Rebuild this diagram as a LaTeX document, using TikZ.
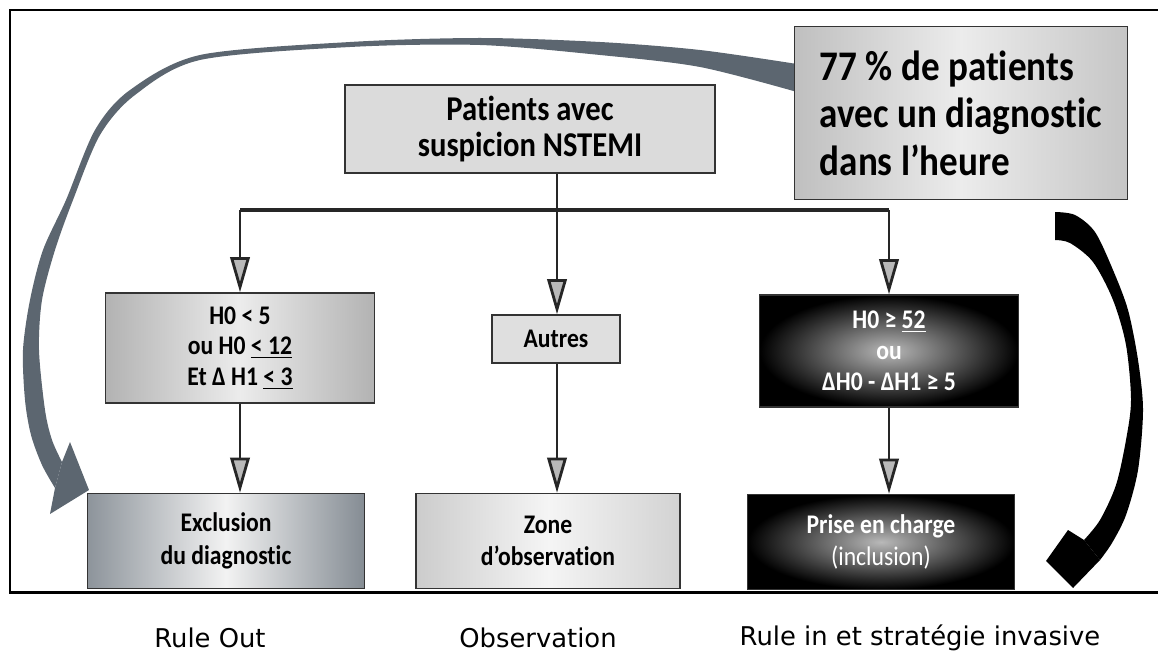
\documentclass[tikz,border=0pt]{standalone}
\usepackage{fontspec}
\setmainfont{DejaVu Sans}
\newfontfamily\boxfont[FakeStretch=0.88, Ligatures=NoCommon]{Carlito}
\usetikzlibrary{arrows.meta, positioning}

\definecolor{arcgray}{RGB}{92,102,112}

\begin{document}
\begin{tikzpicture}[x=0.02cm, y=-0.02cm,
                    box/.style={draw=black!80, line width=0.8pt, align=center, inner sep=0pt,
                                font=\boxfont\bfseries\fontsize{15.3}{17.5}\selectfont},
                    darkbox/.style={box, shading=radial, inner color=gray!55, outer color=black, text=white},
                    line/.style={line width=1.6pt, black!85},
                    flow/.style={line, -{Triangle[length=20pt, width=11pt, fill=gray!55]}},
                    lbl/.style={font=\fontsize{14.7}{17}\selectfont}]

    \useasboundingbox (0,0) rectangle (1158,655);
    \draw[line width=1.7pt] (1170,10) -- (10,10) -- (10,592) -- (1170,592);

    % grande fleche grise vers l'exclusion
    \fill[arcgray] plot[smooth] coordinates {(797,64) (700,50) (600,42) (480,38) (350,42) (200,55) (130,90)
        (95,130) (66,200) (43,250) (30,300) (23,350) (25,400) (31,435) (42,465) (55,488)}
        -- plot[smooth] coordinates {(62,462) (52,440) (45,410) (39,350) (42,300) (55,250) (73,200)
        (100,135) (135,95) (200,60) (350,47) (480,45) (600,55) (700,67) (797,92)} -- cycle;
    \fill[arcgray] (55,488) -- (50,514) -- (89,490) -- (70,442) -- (62,462) -- cycle;

    % fleche noire vers la prise en charge
    \fill[black] plot[smooth] coordinates {(1055,212) (1075,215) (1095,232) (1113,270) (1128,310) (1138,360)
        (1143,410) (1138,470) (1126,515) (1112,543) (1100,560)}
        -- plot[smooth] coordinates {(1084,540) (1100,520) (1116,485) (1126,440) (1131,400) (1126,345)
        (1113,300) (1093,262) (1070,243) (1055,240)} -- cycle;
    \fill[black] (1100,560) -- (1073,588) -- (1046,561) -- (1068,530) -- (1084,540) -- cycle;

    \node[box, minimum width=7.4cm, minimum height=1.76cm, fill=gray!28,
          font=\boxfont\bfseries\fontsize{19.8}{20.5}\selectfont] (patients) at (530,129) {Patients avec\\suspicion NSTEMI};
    \node[box, minimum width=6.66cm, minimum height=3.46cm, align=left,
          left color=gray!50, right color=gray!45, middle color=gray!15,
          font=\boxfont\bfseries\fontsize{24}{27}\selectfont] (share) at (961,113) {77 \% de patients\\avec un diagnostic\\dans l’heure};

    \node[box, minimum width=5.38cm, minimum height=2.2cm, left color=gray!60, right color=gray!60, middle color=gray!15]
          (h0) at (240,348) {H0 < 5\\ou H0 \underline{< 12}\\Et Δ H1 \underline{< 3}};
    \node[box, minimum width=2.56cm, minimum height=0.96cm, fill=gray!25] (autres) at (556,339) {Autres};
    \node[darkbox, minimum width=5.18cm, minimum height=2.24cm] (dark) at (889,351) {H0 ≥ \underline{52}\\ou\\ΔH0 - ΔH1 ≥ 5};

    \node[box, minimum width=5.54cm, minimum height=1.9cm, left color=arcgray!70, right color=arcgray!75, middle color=gray!10,
          font=\boxfont\bfseries\fontsize{15.3}{18.5}\selectfont] (excl) at (226,541) {Exclusion\\du diagnostic};
    \node[box, minimum width=5.28cm, minimum height=1.9cm, left color=gray!40, right color=gray!35, middle color=gray!8,
          font=\boxfont\bfseries\fontsize{15.3}{18.5}\selectfont] (zone) at (548,541) {Zone\\d’observation};
    \node[darkbox, minimum width=5.34cm, minimum height=1.9cm,
          font=\boxfont\bfseries\fontsize{15.3}{18.5}\selectfont] (prise) at (881,542) {Prise en charge\\{\mdseries (inclusion)}};

    \coordinate (split) at (557,210);
    \draw[line, line width=2.2pt] (split -| h0.north) -- (split -| dark.north);
    \draw[line] (patients.south -| split) -- (split);
    \draw[flow] (split -| h0.north) -- (h0.north);
    \draw[flow] (split) -- (split |- autres.north);
    \draw[flow] (split -| dark.north) -- (dark.north);
    \draw[flow] (h0.south) -- (h0.south |- excl.north);
    \draw[flow] (autres.south -| split) -- (split |- zone.north);
    \draw[flow] (dark.south) -- (dark.south |- prise.north);

    \node[lbl] (ruleout) at (210,638) {Rule Out};
    \node[lbl] (obs)     at (538,638) {Observation};
    \node[lbl] (rulein)  at (920,638) {Rule in et stratégie invasive};

\end{tikzpicture}
\end{document}
